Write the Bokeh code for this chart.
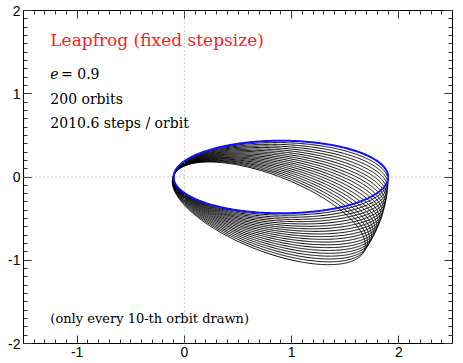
import numpy as np
from bokeh.plotting import figure
from bokeh.models import (ColumnDataSource, Span, LinearAxis, SingleIntervalTicker)
from bokeh.core.properties import value
from bokeh.embed import file_html
from bokeh.resources import INLINE

# ---- data ----
semi_major = 1.0
eccentricity = 0.9
# precession angle (degrees, clockwise about the focus) of every 10-th orbit drawn
precession_deg = [1.45, 2.9, 4.35, 5.8, 7.25, 8.7, 10.15, 11.6, 13.05, 14.5,
                  15.95, 17.4, 18.85, 20.3, 21.75, 23.2, 24.65, 26.1, 27.55, 29.0]
initial_deg = [0.0]
x_ticks = [-1, 0, 1, 2]
y_ticks = [-2, -1, 0, 1, 2]
tick_text = {-2: "-2", -1: "-1", 0: "0", 1: "1", 2: "2"}


def orbit(a, e, ang_deg, n=600):
    t = np.linspace(0, 2 * np.pi, n)
    b = a * np.sqrt(1 - e * e)
    xp = a * e + a * np.cos(t)
    yp = b * np.sin(t)
    th = np.radians(ang_deg)
    x = xp * np.cos(th) + yp * np.sin(th)
    y = -xp * np.sin(th) + yp * np.cos(th)
    return list(x), list(y)


black = [orbit(semi_major, eccentricity, a) for a in precession_deg]
blue = [orbit(semi_major, eccentricity, a) for a in initial_deg]
src_black = ColumnDataSource(dict(xs=[o[0] for o in black], ys=[o[1] for o in black]))
src_blue = ColumnDataSource(dict(xs=[o[0] for o in blue], ys=[o[1] for o in blue]))

p = figure(width=455, height=360, x_range=(-1.5, 2.5), y_range=(-2, 2),
           output_backend="svg", toolbar_location=None, tools="",
           x_axis_location=None, y_axis_location=None,
           min_border_left=23, min_border_top=10, min_border_right=3, min_border_bottom=17)
p.grid.visible = False
p.outline_line_color = "black"
p.outline_line_width = 1
p.background_fill_color = "white"
p.border_fill_color = "white"


def make_axis(labels):
    ax = LinearAxis(ticker=SingleIntervalTicker(interval=1, num_minor_ticks=10))
    ax.major_tick_in = 8
    ax.major_tick_out = 0
    ax.minor_tick_in = 4
    ax.minor_tick_out = 0
    ax.axis_line_color = "black"
    ax.major_tick_line_color = "#333333"
    ax.minor_tick_line_color = "#333333"
    if labels:
        ax.major_label_text_font = "Liberation Sans"
        ax.major_label_text_font_size = "14px"
        ax.major_label_text_color = "black"
        ax.major_label_standoff = 3
        ax.major_label_overrides = tick_text
    else:
        ax.major_label_text_font_size = "1px"
        ax.major_label_text_color = None
        ax.major_label_standoff = 0
    return ax


p.add_layout(make_axis(True), "below")
p.add_layout(make_axis(True), "left")
p.add_layout(make_axis(False), "above")
p.add_layout(make_axis(False), "right")

for loc, dim in ((0, "height"), (0, "width")):
    p.add_layout(Span(location=loc, dimension=dim, line_color="#999999",
                      line_width=1, line_dash="1 3"))

p.multi_line(xs="xs", ys="ys", source=src_black, line_color="black", line_width=1)
p.multi_line(xs="xs", ys="ys", source=src_blue, line_color="#1010ff", line_width=2)

serif = value("DejaVu Serif")
p.text(x=[-1.25], y=[1.64], text=["Leapfrog (fixed stepsize)"], text_font=serif,
       text_font_size="17px", text_color="#ff1a1a", text_baseline="middle")
p.text(x=[-1.25], y=[1.24], text=["e"], text_font=serif, text_font_style="italic",
       text_font_size="14px", text_color="black", text_baseline="middle")
p.text(x=[-1.15], y=[1.24], text=["= 0.9"], text_font=serif,
       text_font_size="14px", text_color="black", text_baseline="middle")
p.text(x=[-1.25], y=[0.94], text=["200 orbits"], text_font=serif,
       text_font_size="14px", text_color="black", text_baseline="middle")
p.text(x=[-1.25], y=[0.65], text=["2010.6 steps / orbit"], text_font=serif,
       text_font_size="14px", text_color="black", text_baseline="middle")
p.text(x=[-1.25], y=[-1.70], text=["(only every 10-th orbit drawn)"], text_font=serif,
       text_font_size="13px", text_color="black", text_baseline="middle")

open("out.html", "w").write(file_html(p, INLINE))
